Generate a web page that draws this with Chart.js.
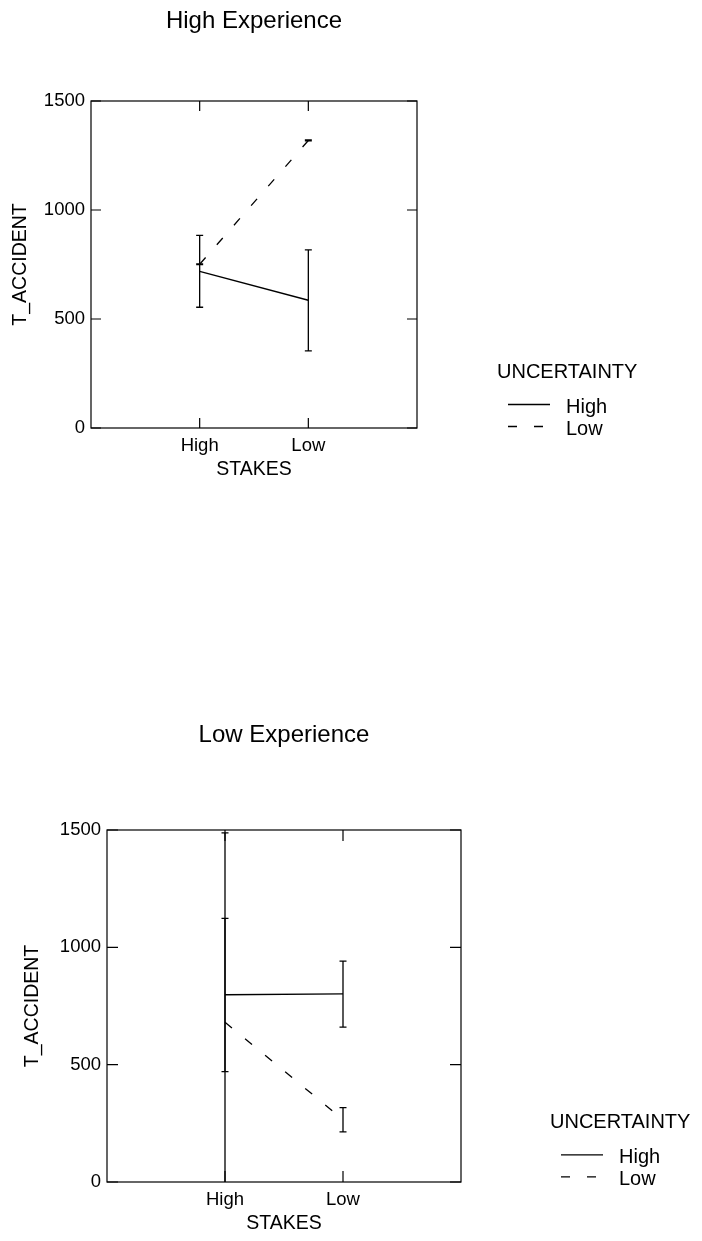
<!DOCTYPE html>
<html>
<head>
<meta charset="utf-8">
<script src="https://cdn.jsdelivr.net/npm/chart.js@4.4.1/dist/chart.umd.min.js"></script>
<style>
  html, body { margin: 0; padding: 0; background: #fff; }
  body { width: 702px; height: 1241px; position: relative; overflow: hidden; }
  canvas { position: absolute; left: 0; display: block; }
</style>
</head>
<body>
<canvas id="panelHigh" width="702" height="620" style="top:0"></canvas>
<canvas id="panelLow" width="702" height="621" style="top:620px"></canvas>
<script>
// Categories and tick values
const stakes = ['High', 'Low'];
const uncertaintyLevels = ['High', 'Low'];
const yTickValues = [0, 500, 1000, 1500];

// High Experience: mean T_ACCIDENT and error-bar limits per stakes level
const highExpHighUncMean = [719, 586];
const highExpHighUncLow = [554, 354];
const highExpHighUncHigh = [884, 817];
const highExpLowUncMean = [751, 1319];
const highExpLowUncLow = [749, 1317];
const highExpLowUncHigh = [753, 1321];

// Low Experience: mean T_ACCIDENT and error-bar limits per stakes level
const lowExpHighUncMean = [798, 802];
const lowExpHighUncLow = [470, 660];
const lowExpHighUncHigh = [1123, 941];
const lowExpLowUncMean = [681, 266];
const lowExpLowUncLow = [-126, 214];
const lowExpLowUncHigh = [1488, 317];

const FONT = '"Liberation Sans", Arial, Helvetica, sans-serif';
const INK = '#000';
const DASH = [9, 17];
const TITLE_SIZE = 24;
const TICK_SIZE = 18.5;
const AXIS_TITLE_SIZE = 19.5;
const KEY_SIZE = 20;
const X_AXIS_H = 53;

// Frame with inward ticks, error bars and the UNCERTAINTY key
const framePlugin = {
  id: 'frameAndBars',
  afterDatasetsDraw(chart, args, opts) {
    const { ctx, chartArea: a, scales: { x, y } } = chart;
    ctx.save();
    ctx.beginPath();
    ctx.rect(a.left, a.top, a.right - a.left, a.bottom - a.top);
    ctx.clip();
    ctx.strokeStyle = INK;
    ctx.lineWidth = 1.3;
    ctx.setLineDash([]);
    chart.data.datasets.forEach(ds => {
      ds.data.forEach(p => {
        const px = x.getPixelForValue(p.x);
        const yl = y.getPixelForValue(p.lo);
        const yh = y.getPixelForValue(p.hi);
        ctx.beginPath();
        ctx.moveTo(px, yl); ctx.lineTo(px, yh);
        ctx.moveTo(px - 3.5, yl); ctx.lineTo(px + 3.5, yl);
        ctx.moveTo(px - 3.5, yh); ctx.lineTo(px + 3.5, yh);
        ctx.stroke();
      });
    });
    ctx.restore();

    // plot frame
    ctx.save();
    ctx.strokeStyle = INK;
    ctx.lineWidth = 1.2;
    ctx.strokeRect(a.left, a.top, a.right - a.left, a.bottom - a.top);
    const tl = opts.tickLen;
    ctx.beginPath();
    y.ticks.forEach(t => {
      const py = y.getPixelForValue(t.value);
      ctx.moveTo(a.left, py); ctx.lineTo(a.left + tl, py);
      ctx.moveTo(a.right, py); ctx.lineTo(a.right - tl, py);
    });
    x.ticks.forEach(t => {
      const px = x.getPixelForValue(t.value);
      ctx.moveTo(px, a.bottom); ctx.lineTo(px, a.bottom - tl);
      ctx.moveTo(px, a.top); ctx.lineTo(px, a.top + tl);
    });
    ctx.stroke();
    ctx.restore();

    // key
    const k = opts.key;
    ctx.save();
    ctx.fillStyle = INK;
    ctx.font = KEY_SIZE + 'px ' + FONT;
    ctx.textBaseline = 'alphabetic';
    ctx.textAlign = 'left';
    ctx.fillText('UNCERTAINTY', k.x, k.y);
    chart.data.datasets.forEach((ds, i) => {
      const ly = k.y + 26.5 + i * 22;
      ctx.beginPath();
      ctx.strokeStyle = INK;
      ctx.lineWidth = 1.3;
      ctx.setLineDash(ds.borderDash || []);
      ctx.moveTo(k.x + 11, ly);
      ctx.lineTo(k.x + 53, ly);
      ctx.stroke();
      ctx.setLineDash([]);
      ctx.fillText(ds.label, k.x + 69, k.y + 35 + i * 22);
    });
    ctx.restore();
  }
};

function series(mean, lo, hi) {
  return mean.map((m, i) => ({ x: i, y: m, lo: lo[i], hi: hi[i] }));
}

function buildPanel(id, cfg) {
  const datasets = [
    {
      label: uncertaintyLevels[0],
      data: series(cfg.highMean, cfg.highLo, cfg.highHi),
      borderColor: INK, borderWidth: 1.3, pointRadius: 0, fill: false, tension: 0
    },
    {
      label: uncertaintyLevels[1],
      data: series(cfg.lowMean, cfg.lowLo, cfg.lowHi),
      borderColor: INK, borderWidth: 1.3, borderDash: DASH, pointRadius: 0, fill: false, tension: 0
    }
  ];
  const L = cfg.area;
  const titleLine = TITLE_SIZE * 1.2;
  const titlePadTop = cfg.titleMid - titleLine / 2;
  return new Chart(document.getElementById(id), {
    type: 'line',
    data: { datasets },
    plugins: [framePlugin],
    options: {
      responsive: false,
      animation: false,
      events: [],
      layout: { padding: { left: cfg.padLeft, right: 702 - L.right, top: 0, bottom: cfg.height - L.bottom - X_AXIS_H } },
      plugins: {
        legend: { display: false },
        tooltip: { enabled: false },
        title: {
          display: true, text: cfg.title, fullSize: false, color: INK,
          font: { size: TITLE_SIZE, family: FONT, weight: 'normal', lineHeight: 1.2 },
          padding: { top: titlePadTop, bottom: L.top - titlePadTop - titleLine }
        },
        frameAndBars: { tickLen: cfg.tickLen, key: cfg.key }
      },
      scales: {
        x: {
          type: 'linear', min: -1, max: 2,
          afterBuildTicks: s => { s.ticks = stakes.map((_, i) => ({ value: i })); },
          afterFit: s => { s.height = X_AXIS_H; },
          grid: { display: false, drawTicks: false },
          border: { display: false },
          ticks: {
            autoSkip: false, maxRotation: 0, padding: 7, color: INK,
            font: { size: TICK_SIZE, family: FONT },
            callback: v => stakes[v] ?? ''
          },
          title: { display: true, text: 'STAKES', color: INK, font: { size: AXIS_TITLE_SIZE, family: FONT }, padding: 0 }
        },
        y: {
          min: 0, max: 1500,
          afterBuildTicks: s => { s.ticks = yTickValues.map(v => ({ value: v })); },
          afterFit: s => { s.width = L.left - cfg.padLeft; },
          grid: { display: false, drawTicks: false },
          border: { display: false },
          ticks: { padding: 6, color: INK, font: { size: TICK_SIZE, family: FONT }, callback: v => String(v) },
          title: { display: true, text: 'T_ACCIDENT', color: INK, font: { size: AXIS_TITLE_SIZE, family: FONT }, padding: 0 }
        }
      }
    }
  });
}

buildPanel('panelHigh', {
  title: 'High Experience', height: 620,
  area: { left: 91, top: 101, right: 417, bottom: 428 },
  padLeft: 9, titleMid: 21, tickLen: 10,
  key: { x: 497, y: 378 },
  highMean: highExpHighUncMean, highLo: highExpHighUncLow, highHi: highExpHighUncHigh,
  lowMean: highExpLowUncMean, lowLo: highExpLowUncLow, lowHi: highExpLowUncHigh
});

buildPanel('panelLow', {
  title: 'Low Experience', height: 621,
  area: { left: 107, top: 210, right: 461, bottom: 562 },
  padLeft: 21, titleMid: 115, tickLen: 11,
  key: { x: 550, y: 508.3 },
  highMean: lowExpHighUncMean, highLo: lowExpHighUncLow, highHi: lowExpHighUncHigh,
  lowMean: lowExpLowUncMean, lowLo: lowExpLowUncLow, lowHi: lowExpLowUncHigh
});
</script>
</body>
</html>
